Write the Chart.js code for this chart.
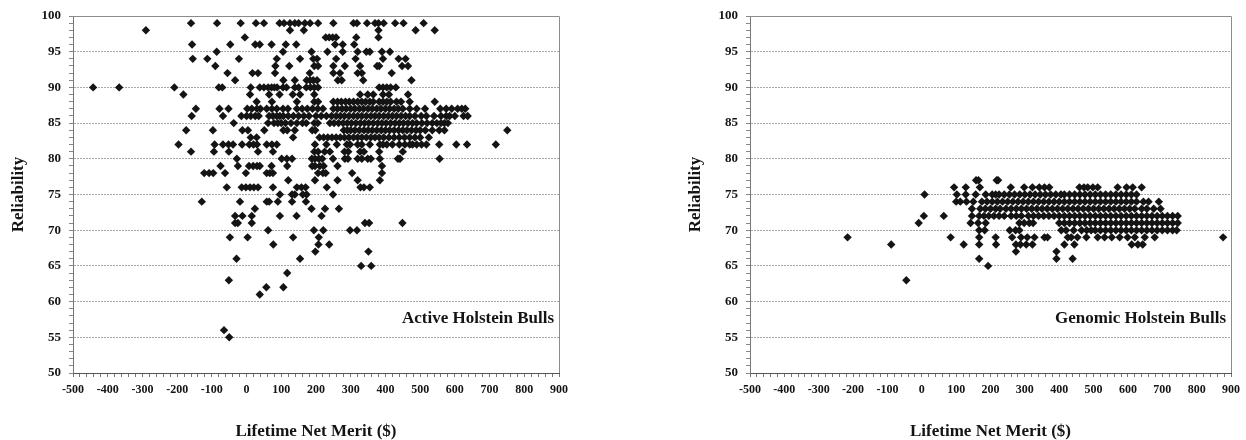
<!DOCTYPE html>
<html>
<head>
<meta charset="utf-8">
<script src="https://cdn.jsdelivr.net/npm/chart.js@4.4.1/dist/chart.umd.min.js"></script>
<style>
  html, body { margin: 0; padding: 0; background: #fff; }
  #wrap { position: relative; width: 1246px; height: 440px; }
  .panel { position: absolute; top: 0; width: 623px; height: 440px; }
</style>
</head>
<body>
<div id="wrap">
  <div class="panel" style="left:0"><canvas id="active" width="623" height="440"></canvas></div>
  <div class="panel" style="left:623px"><canvas id="genomic" width="623" height="440"></canvas></div>
</div>
<script>
const activeRel = [99, 98, 97, 96, 95, 94, 93, 92, 91, 90, 89, 88, 87, 86, 85, 84, 83, 82, 81, 80,
                   79, 78, 77, 76, 75, 74, 73, 72, 71, 70, 69, 68, 67, 66, 65, 64, 63, 62, 61, 56, 55];
const activeMerit = [
  [-160, -85, -17, 27, 50, 95, 108, 125, 139, 150, 168, 183, 206, 250, 308, 318, 347, 370, 380, 395, 428, 452, 510],
  [-290, 125, 165, 380, 487, 542],
  [-5, 228, 238, 248, 258, 316, 380],
  [-157, -47, 25, 38, 72, 113, 143, 255, 277, 310],
  [-86, 105, 187, 233, 277, 320, 345, 355, 390, 413],
  [-155, -113, -22, 87, 154, 192, 203, 258, 314, 393, 438, 458],
  [-90, 83, 123, 195, 206, 250, 283, 327, 376, 382, 448, 465],
  [-55, 17, 33, 82, 182, 250, 269, 320, 332, 418],
  [-33, 106, 139, 173, 183, 192, 203, 263, 274, 336, 475],
  [-442, -367, -208, -80, -70, 12, 38, 50, 62, 72, 80, 88, 105, 115, 139, 150, 172, 184, 195, 206, 382, 393, 404, 415, 430],
  [-182, 10, 65, 95, 133, 154, 195, 327, 349, 365, 393, 410, 465],
  [29, 73, 145, 195, 206, 250, 262, 273, 285, 296, 308, 320, 332, 343, 355, 365, 382, 393, 404, 415, 432, 445, 470, 542],
  [-146, -78, -52, 2, 15, 30, 40, 58, 73, 87, 105, 119, 145, 160, 175, 190, 205, 220, 250, 262, 275, 287, 300, 312, 325, 337,
   350, 362, 375, 387, 400, 412, 425, 437, 450, 470, 490, 514, 558, 575, 591, 608, 620, 630],
  [-158, -68, -15, 0, 12, 25, 35, 65, 76, 87, 96, 106, 120, 135, 150, 165, 180, 200, 215, 230, 245, 258, 270, 282, 295, 308,
   320, 332, 345, 358, 370, 382, 395, 408, 420, 432, 445, 458, 470, 485, 503, 518, 540, 560, 575, 585, 600, 625, 637],
  [-37, 62, 79, 90, 100, 112, 128, 145, 161, 172, 195, 205, 240, 252, 265, 278, 290, 302, 315, 328, 340, 352, 365, 378, 390,
   402, 415, 428, 440, 452, 465, 478, 490, 505, 520, 535, 548, 560, 570, 580],
  [-174, -97, -12, 4, 51, 106, 117, 139, 189, 198, 280, 290, 300, 312, 325, 338, 350, 362, 375, 388, 400, 412, 425, 438, 450,
   462, 475, 488, 500, 515, 535, 555, 570, 751],
  [12, 29, 134, 210, 222, 234, 246, 258, 270, 282, 295, 308, 320, 332, 345, 358, 370, 382, 395, 410, 425, 440, 455, 470, 485, 500, 525],
  [-196, -92, -68, -52, -39, -13, 8, 20, 30, 58, 73, 87, 197, 230, 260, 289, 298, 320, 332, 355, 384, 393, 404, 420, 440, 456,
   470, 478, 490, 504, 518, 555, 604, 635, 718],
  [-160, -94, -51, 33, 76, 195, 206, 225, 240, 282, 293, 327, 338, 382, 450],
  [-28, 101, 116, 131, 188, 197, 208, 218, 249, 283, 292, 320, 332, 349, 358, 384, 436, 442, 556],
  [-75, -25, 7, 19, 30, 38, 72, 117, 189, 197, 211, 222, 262, 390],
  [-122, -108, -96, -62, -2, 58, 67, 76, 206, 220, 228, 304, 390],
  [120, 197, 262, 320, 384],
  [-57, -14, -2, 10, 21, 33, 76, 145, 158, 170, 231, 328, 338, 355],
  [96, 131, 139, 162, 173, 249],
  [-129, -19, 58, 65, 90, 131, 171],
  [24, 187, 226, 266],
  [-33, -12, 15, 96, 144, 216],
  [-33, -25, 15, 341, 353, 449],
  [62, 194, 221, 298, 318],
  [-48, 3, 134, 208],
  [77, 207, 238],
  [198, 351],
  [-29, 154],
  [330, 359],
  [117],
  [-51],
  [57, 106],
  [38],
  [-65],
  [-50]
];

const genomicRel = [77, 76, 75, 74, 73, 72, 71, 70, 69, 68, 67, 66, 65, 63];
const genomicMerit = [
  [158, 165, 218, 222],
  [94, 128, 169, 259, 298, 322, 342, 357, 371, 459, 472, 483, 498, 512, 570, 596, 614, 640],
  [8, 102, 128, 157, 186, 205, 215, 225, 240, 255, 270, 285, 300, 315, 330, 345, 360, 375, 390, 405, 415, 430, 445, 460,
   475, 490, 505, 520, 535, 550, 565, 580, 595, 610, 625],
  [100, 112, 130, 150, 175, 190, 205, 220, 235, 250, 265, 280, 295, 310, 325, 340, 355, 370, 385, 400, 415, 430, 445, 460,
   475, 490, 505, 520, 535, 550, 565, 580, 595, 610, 625, 645, 660, 690],
  [146, 170, 185, 200, 215, 228, 245, 260, 275, 290, 305, 320, 335, 350, 365, 380, 395, 410, 425, 440, 455, 470, 485, 500,
   515, 530, 545, 560, 575, 590, 605, 620, 640, 655, 675, 695],
  [6, 64, 146, 167, 181, 195, 210, 225, 240, 260, 275, 290, 310, 325, 340, 355, 370, 385, 400, 415, 430, 445, 460, 475, 490,
   505, 520, 535, 550, 565, 580, 595, 610, 625, 640, 655, 670, 685, 700, 715, 730, 745],
  [-9, 142, 164, 186, 284, 298, 313, 324, 400, 415, 430, 445, 460, 475, 490, 505, 520, 535, 550, 565, 580, 595, 610, 625,
   640, 655, 670, 685, 700, 715, 730, 745],
  [167, 183, 256, 273, 284, 406, 420, 442, 465, 480, 493, 505, 520, 535, 550, 565, 580, 595, 610, 625, 640, 655, 670, 685,
   700, 715, 730, 742],
  [-216, 84, 167, 215, 263, 289, 307, 328, 357, 366, 425, 435, 453, 479, 512, 532, 553, 576, 599, 620, 649, 678, 877],
  [-89, 122, 167, 216, 274, 287, 304, 322, 415, 444, 611, 629, 643],
  [274, 392],
  [167, 392, 439],
  [193],
  [-45]
];

const xTicks = { min: -500, max: 900, step: 100, minor: 20 };
const yTicks = { min: 50, max: 100, step: 5, minor: 1 };

const FONT = '"Liberation Serif", "Times New Roman", serif';
const INK = '#141414';

function toPoints(levels, merits) {
  const pts = [];
  levels.forEach((rel, i) => {
    merits[i].forEach(m => pts.push({ x: m, y: rel }));
  });
  return pts;
}

// corner caption + top/right frame of the plot box
const plotDecor = {
  id: 'plotDecor',
  beforeDatasetsDraw(chart) {
    const { ctx, chartArea: a } = chart;
    ctx.save();
    ctx.strokeStyle = '#8c8c8c';
    ctx.lineWidth = 1;
    ctx.beginPath();
    ctx.moveTo(a.left, a.top + 0.5);
    ctx.lineTo(a.right + 0.5, a.top + 0.5);
    ctx.lineTo(a.right + 0.5, a.bottom);
    ctx.stroke();
    ctx.restore();
  },
  afterDraw(chart, args, opts) {
    const { ctx, chartArea: a } = chart;
    ctx.save();
    ctx.font = 'bold 17px ' + FONT;
    ctx.fillStyle = INK;
    ctx.textAlign = 'right';
    ctx.textBaseline = 'middle';
    ctx.fillText(opts.text, a.right - 5, a.top + 303);
    ctx.restore();
  }
};

function makeChart(id, points, caption, padLeft, padRight) {
  const ctx = document.getElementById(id).getContext('2d');
  return new Chart(ctx, {
    type: 'scatter',
    data: {
      datasets: [{
        data: points,
        pointStyle: 'rectRot',
        pointRadius: 4.2,
        pointBackgroundColor: INK,
        pointBorderWidth: 0
      }]
    },
    options: {
      responsive: false,
      animation: false,
      events: [],
      layout: { padding: { left: padLeft, right: padRight, top: 16, bottom: 0 } },
      plugins: {
        legend: { display: false },
        tooltip: { enabled: false },
        plotDecor: { text: caption }
      },
      scales: {
        x: {
          type: 'linear',
          min: xTicks.min,
          max: xTicks.max,
          afterFit: (s) => { s.height = 67; },
          border: { color: '#555', width: 1 },
          grid: {
            drawOnChartArea: false,
            tickLength: 4,
            tickColor: '#777'
          },
          ticks: {
            stepSize: xTicks.minor,
            autoSkip: false,
            maxTicksLimit: 200,
            maxRotation: 0,
            minRotation: 0,
            padding: 6,
            color: INK,
            font: { family: FONT, size: 12, weight: 'bold' },
            callback: (v) => (v % xTicks.step === 0 ? String(v) : '')
          },
          title: {
            display: true,
            text: 'Lifetime Net Merit ($)',
            color: INK,
            font: { family: FONT, size: 17, weight: 'bold', lineHeight: 1 },
            padding: { top: 0, bottom: 0 }
          }
        },
        y: {
          type: 'linear',
          min: yTicks.min,
          max: yTicks.max,
          afterFit: (s) => { s.width = 73; },
          border: { color: '#777', width: 1, dash: [2, 1] },
          grid: {
            color: (c) => (c.tick && c.tick.value % yTicks.step === 0 &&
                           c.tick.value > yTicks.min && c.tick.value < yTicks.max) ? '#a8a8a8' : 'rgba(0,0,0,0)',
            lineWidth: 1,
            tickLength: 4,
            tickColor: '#888'
          },
          ticks: {
            stepSize: yTicks.minor,
            autoSkip: false,
            maxTicksLimit: 200,
            padding: 8,
            color: INK,
            font: { family: FONT, size: 13, weight: 'bold' },
            callback: (v) => (v % yTicks.step === 0 ? String(v) : '')
          },
          title: {
            display: true,
            text: 'Reliability',
            color: INK,
            font: { family: FONT, size: 17, weight: 'bold', lineHeight: 1 },
            padding: { top: 10, bottom: 0 }
          }
        }
      }
    },
    plugins: [plotDecor]
  });
}

makeChart('active', toPoints(activeRel, activeMerit), 'Active Holstein Bulls', 0, 64);
makeChart('genomic', toPoints(genomicRel, genomicMerit), 'Genomic Holstein Bulls', 54, 13);
</script>
</body>
</html>
